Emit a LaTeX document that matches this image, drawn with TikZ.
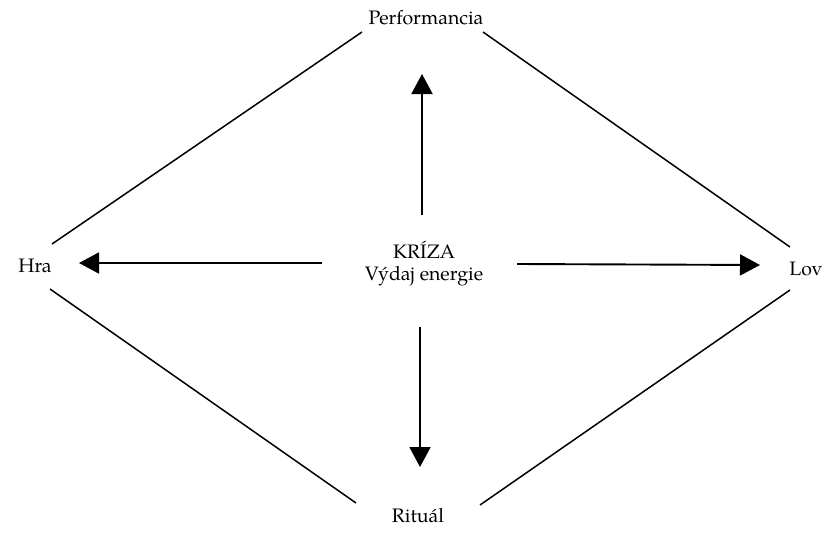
\documentclass[tikz,border=0pt]{standalone}
\usepackage{fontspec}
\setmainfont{TeX Gyre Pagella}
\usetikzlibrary{arrows.meta}
\begin{document}
\begin{tikzpicture}[x=1pt,y=-1pt,
  lbl/.style={font=\fontsize{19.5}{24}\selectfont, inner sep=0pt, anchor=base},
  edge/.style={line width=1.5pt},
  arr/.style={line width=1.9pt, -{Triangle[length=20pt,width=21pt]}}]
\useasboundingbox[fill=white] (0,0) rectangle (840,535);
% labels
\node[lbl] (perf) at (426,25) {Performancia};
\node[lbl] (hra) at (35,272) {Hra};
\node[lbl] (lov) at (806,275) {Lov};
\node[lbl] (rit) at (418,522) {Rituál};
\node[lbl] (kriza) at (424,258) {KRÍZA};
\node[lbl] (vydaj) at (424,280) {Výdaj energie};
% line end points
\coordinate (pH) at (362,32);
\coordinate (hP) at (52,244);
\coordinate (pL) at (483,32);
\coordinate (lP) at (790,247);
\coordinate (hR) at (50,289);
\coordinate (rH) at (356,503);
\coordinate (lR) at (790,290);
\coordinate (rL) at (480,505);
% arrow end points
\coordinate (aUt) at (422,215);
\coordinate (aUh) at (422,74);
\coordinate (aLt) at (322,263);
\coordinate (aLh) at (79,263);
\coordinate (aRt) at (517,264);
\coordinate (aRh) at (760,265);
\coordinate (aDt) at (420,327);
\coordinate (aDh) at (420,467);
% diamond
\draw[edge] (pH) -- (hP);
\draw[edge] (pL) -- (lP);
\draw[edge] (hR) -- (rH);
\draw[edge] (lR) -- (rL);
% arrows
\draw[arr] (aUt) -- (aUh);
\draw[arr] (aLt) -- (aLh);
\draw[arr] (aRt) -- (aRh);
\draw[arr] (aDt) -- (aDh);
\end{tikzpicture}
\end{document}
